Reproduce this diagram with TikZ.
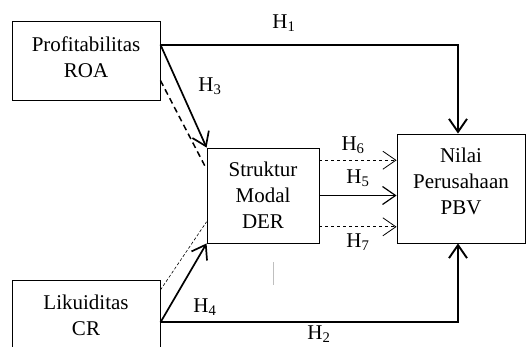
\documentclass[tikz,border=0pt]{standalone}
\usepackage{fontspec}
\setmainfont{Liberation Serif}
\usetikzlibrary{arrows.meta}
\begin{document}
\begin{tikzpicture}[x=1pt,y=-1pt,>={Straight Barb[length=13pt,width=18pt]},
    box/.style={draw,line width=0.9pt,align=center,inner sep=0pt,font=\fontsize{21}{26}\selectfont},
    hlab/.style={font=\fontsize{21}{26}\selectfont}]
\useasboundingbox (0,0) rectangle (526,347);
\node[box,minimum width=148,minimum height=79] (prof) at (86,60.5) {Profitabilitas\\ROA\\[-20pt]\mbox{}};
\node[box,minimum width=148,minimum height=77] (liq) at (86,318.5) {Likuiditas\\CR\\[-20pt]\mbox{}};
\node[box,minimum width=112,minimum height=95] (der) at (263,195.5) {Struktur\\Modal\\DER};
\node[box,minimum width=128,minimum height=109] (pbv) at (461,188.5) {Nilai\\Perusahaan\\PBV\\[-12pt]\mbox{}};

\draw[->,line width=1.9pt] (prof.12) -| ([xshift=-3pt]pbv.north);
\draw[->,line width=1.9pt] (liq.-3.5) -| ([xshift=-3pt]pbv.south);
\draw[->,line width=1.7pt] (prof.12) -- (der.north west);
\draw[->,line width=1.7pt] (liq.-3.5) -- (der.south west);
\draw[line width=1.5pt,dash pattern=on 6pt off 4pt] (prof.-15) -- (der.155);
\draw[line width=0.6pt,dash pattern=on 3pt off 2pt] (liq.21) -- (der.205);
\foreach \a/\w/\s in {32/0.8pt/dashed,0/1.2pt/solid,-29/0.8pt/dashed}
{
    \draw[->,line width=\w,\s] (der.\a) -- (der.\a -| pbv.west);
}

\foreach \n/\x/\y in {1/284/23,2/319/334,3/210/86,4/205/307,5/358/178,6/353/145,7/358/242}
{
    \node[hlab] (h\n) at (\x,\y) {H\textsubscript{\n}};
}
\draw[gray!50,line width=0.6pt] (273,262) -- (273,285);
\end{tikzpicture}
\end{document}
